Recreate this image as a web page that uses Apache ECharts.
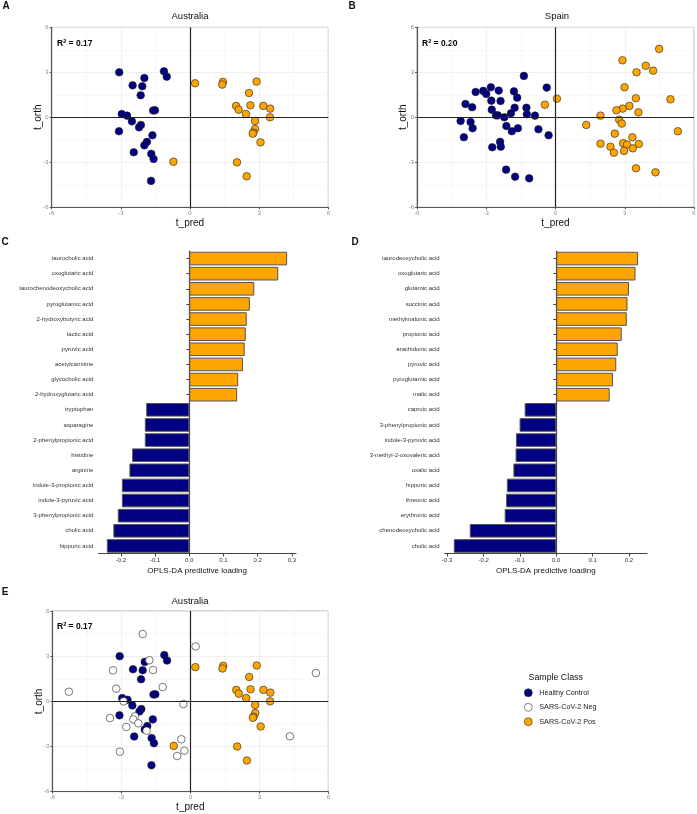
<!DOCTYPE html>
<html>
<head>
<meta charset="utf-8">
<script src="https://cdn.jsdelivr.net/npm/echarts@6/dist/echarts.min.js"></script>
<style>
html, body { margin: 0; padding: 0; background: #fff; }
#chart { width: 697px; height: 814px; }
</style>
</head>
<body>
<div id="chart"></div>
<script>
// OPLS-DA scores, Australia (panels A and E)
const ausHealthy = [
  [-3.07, 3.0], [-1.13, 3.07], [-1.01, 2.71], [-1.98, 2.62], [-2.49, 2.13],
  [-2.07, 2.07], [-2.14, 1.47], [-1.6, 0.45], [-1.52, 0.47], [-2.96, 0.22],
  [-2.73, 0.11], [-2.52, -0.27], [-2.13, -0.51], [-2.21, -0.67], [-3.08, -0.93],
  [-1.63, -1.2], [-1.87, -1.64], [-1.98, -1.87], [-2.44, -2.33], [-1.68, -2.44],
  [-1.58, -2.78], [-1.69, -4.24]
]
const ausPos = [
  [0.22, 2.27], [1.43, 2.36], [1.4, 2.18], [2.89, 2.38], [2.56, 1.62],
  [2.0, 0.76], [2.11, 0.51], [2.62, 0.8], [3.18, 0.76], [3.48, 0.58],
  [2.43, 0.22], [3.47, 0.0], [2.82, -0.24], [2.82, -0.78], [2.75, -1.02],
  [2.72, -1.09], [3.06, -1.67], [-0.72, -2.96], [2.04, -3.0], [2.46, -3.93]
]
const ausNeg = [
  [-2.07, 4.47], [0.23, 3.65], [5.46, 1.88], [-1.78, 2.73], [-3.36, 2.06],
  [-1.62, 2.08], [-5.28, 0.64], [-3.22, 0.84], [-1.2, 0.95], [-2.9, 0.0],
  [-0.3, -0.18], [-3.49, -1.11], [-2.41, -1.0], [-2.48, -1.2], [-2.26, -1.46],
  [-2.78, -1.7], [-1.9, -1.95], [-0.39, -2.52], [4.33, -2.32], [-0.26, -3.28],
  [-0.57, -3.63], [-3.06, -3.34]
]

// OPLS-DA scores, Spain (panel B)
const spainHealthy = [
  [-1.37, 2.76], [-0.38, 1.98], [-2.8, 2.0], [-2.46, 1.78], [-3.13, 1.76],
  [-3.46, 1.69], [-3.0, 1.56], [-1.8, 1.73], [-1.66, 1.31], [-2.78, 1.11],
  [-2.38, 1.09], [-3.9, 0.89], [-3.61, 0.67], [-2.76, 0.51], [-1.77, 0.64],
  [-1.26, 0.64], [-2.58, 0.13], [-2.5, 0.13], [-1.93, 0.27], [-1.24, 0.2],
  [-0.89, 0.11], [-2.22, 0.0], [-4.11, -0.24], [-3.68, -0.31], [-3.59, -0.73],
  [-2.13, -0.58], [-1.63, -0.73], [-1.89, -0.93], [-0.74, -0.8], [-3.97, -1.33],
  [-0.3, -1.2], [-2.4, -1.64], [-2.74, -2.0], [-2.37, -1.96], [-2.14, -3.49],
  [-1.75, -3.96], [-1.14, -4.07]
]
const spainPos = [
  [4.49, 4.56], [2.9, 3.8], [3.91, 3.44], [4.23, 3.11], [3.51, 3.0],
  [2.99, 2.0], [4.98, 1.2], [0.06, 1.24], [-0.46, 0.84], [3.48, 1.27],
  [3.2, 0.76], [2.91, 0.58], [2.64, 0.47], [3.59, 0.33], [1.95, 0.11],
  [2.76, -0.16], [2.87, -0.42], [1.33, -0.51], [5.3, -0.93], [2.57, -1.09],
  [3.33, -1.33], [1.95, -1.76], [2.93, -1.73], [3.1, -1.82], [3.61, -1.78],
  [2.38, -1.96], [2.97, -2.24], [3.35, -2.07], [2.53, -2.36], [3.49, -3.4],
  [4.33, -3.67]
]

// predictive loadings (panels C and D), top to bottom
const ausMetabolites = [
  'taurocholic acid', 'oxoglutaric acid', 'taurochenodeoxycholic acid', 'pyroglutamic acid',
  '2-hydroxybutyric acid', 'lactic acid', 'pyruvic acid', 'acetylcarnitine',
  'glycocholic acid', '2-hydroxyglutaric acid', 'tryptophan', 'asparagine',
  '2-phenylpropionic acid', 'histidine', 'arginine', 'indole-3-propionic acid',
  'indole-3-pyruvic acid', '3-phenylpropionic acid', 'cholic acid', 'hippuric acid'
]
const ausLoadings = [
  0.286, 0.260, 0.190, 0.177, 0.168, 0.165, 0.162, 0.157, 0.143, 0.140,
  -0.126, -0.130, -0.130, -0.167, -0.175, -0.197, -0.197, -0.209, -0.222, -0.241
]
const spainMetabolites = [
  'taurodeoxycholic acid', 'oxoglutaric acid', 'glutamic acid', 'succinic acid',
  'methylmalonic acid', 'propionic acid', 'arachidonic acid', 'pyruvic acid',
  'pyroglutamic acid', 'malic acid', 'caproic acid', '3-phenylpropionic acid',
  'indole-3-pyruvic acid', '3-methyl-2-oxovaleric acid', 'oxalic acid', 'hippuric acid',
  'threonic acid', 'erythronic acid', 'chenodeoxycholic acid', 'cholic acid'
]
const spainLoadings = [
  0.225, 0.218, 0.200, 0.196, 0.194, 0.180, 0.169, 0.165, 0.156, 0.147,
  -0.087, -0.101, -0.111, -0.112, -0.118, -0.136, -0.138, -0.142, -0.238, -0.282
]

const ausLoadingTicks = [-0.2, -0.1, 0.0, 0.1, 0.2, 0.3]
const spainLoadingTicks = [-0.3, -0.2, -0.1, 0.0, 0.1, 0.2]

const FONT = '"Liberation Sans", Arial, sans-serif'
const NAVY = '#000080'
const ORANGE = '#FFA500'

const chart = echarts.init(document.getElementById('chart'))

const scoreGrid = (left, top, width, height) => ({
  left, top, width, height,
  show: true, borderColor: '#b0b0b0', borderWidth: 1,
  outerBoundsMode: 'none', containLabel: false
})

const scoreAxis = (gridIndex, name, vertical) => ({
  type: 'value', gridIndex, min: -6, max: 6, interval: 3,
  name, nameLocation: 'middle', nameGap: vertical ? 8.5 : 11,
  nameMoveOverlap: false,
  nameTextStyle: { fontFamily: FONT, fontSize: 10, color: '#111' },
  axisLine: { show: true, onZero: false, lineStyle: { color: '#555', width: 1.2 } },
  axisTick: { show: true, length: 2, lineStyle: { color: '#555' } },
  axisLabel: { fontFamily: FONT, fontSize: 6, color: '#888', margin: 3 },
  splitLine: { show: true, lineStyle: { color: '#ebebeb', width: 0.8 } },
  minorTick: { show: false, splitNumber: 2 },
  minorSplitLine: { show: true, lineStyle: { color: '#f4f4f4', width: 0.6 } }
})

const zeroLines = {
  silent: true, symbol: 'none', label: { show: false },
  lineStyle: { color: '#222', width: 1.2, type: 'solid' },
  emphasis: { disabled: true },
  data: [{ xAxis: 0 }, { yAxis: 0 }]
}

const dots = (name, data, idx, fill, withZero) => ({
  name, type: 'scatter', data, xAxisIndex: idx, yAxisIndex: idx,
  symbolSize: 7.6, z: 3,
  itemStyle: { color: fill, borderColor: '#222', borderWidth: 0.6, opacity: 1 },
  markLine: withZero ? zeroLines : undefined
})

const loadingXAxis = (gridIndex, min, max, ticks) => ({
  type: 'value', gridIndex, min, max,
  name: 'OPLS-DA predictive loading', nameLocation: 'middle', nameGap: 13.5,
  nameMoveOverlap: false,
  nameTextStyle: { fontFamily: FONT, fontSize: 8, color: '#111' },
  axisLine: { show: true, onZero: false, lineStyle: { color: '#444', width: 1.2 } },
  axisTick: { show: true, length: 3, customValues: ticks, lineStyle: { color: '#444' } },
  axisLabel: { fontFamily: FONT, fontSize: 6, color: '#333', margin: 4,
    customValues: ticks, formatter: v => v.toFixed(1) },
  splitLine: { show: false }
})

const loadingYAxis = (gridIndex, cats) => ({
  type: 'category', gridIndex, data: cats, inverse: true,
  axisLine: { show: true, lineStyle: { color: '#444', width: 1.2 } },
  axisTick: { show: true, alignWithLabel: true, length: 3, lineStyle: { color: '#444' } },
  axisLabel: { fontFamily: FONT, fontSize: 6, color: '#333', margin: 5, interval: 0 },
  splitLine: { show: false }
})

const loadingBars = (idx, values) => ({
  type: 'bar', data: values, xAxisIndex: idx, yAxisIndex: idx,
  barWidth: '90%',
  itemStyle: {
    color: p => (p.value >= 0 ? ORANGE : NAVY),
    borderColor: '#555', borderWidth: 1
  }
})

const label = (text, x, y, font, extra) => ({
  type: 'text', x, y, silent: true,
  style: Object.assign({ text, font, fill: '#111', textAlign: 'center', textVerticalAlign: 'middle' }, extra || {})
})

const r2 = (value, x, y) => ({
  type: 'text', x, y, silent: true,
  style: {
    text: '{r|R}{s|2}{r| = ' + value + '}',
    textVerticalAlign: 'middle',
    rich: {
      r: { font: 'bold 8.5px ' + FONT, fill: '#000' },
      s: { font: 'bold 5.5px ' + FONT, fill: '#000', verticalAlign: 'top', padding: [0, 0, 5, 0] }
    }
  }
})

chart.setOption({
  backgroundColor: '#fff',
  animation: false,
  grid: [
    scoreGrid(51.7, 27.3, 276.6, 180),
    scoreGrid(417, 27.3, 277, 180),
    { left: 98.3, top: 251, width: 197.7, height: 302.5, outerBoundsMode: 'none' },
    { left: 444.7, top: 251, width: 202.3, height: 302.5, outerBoundsMode: 'none' },
    scoreGrid(52.3, 611, 276, 180.7)
  ],
  xAxis: [
    scoreAxis(0, 't_pred', false),
    scoreAxis(1, 't_pred', false),
    loadingXAxis(2, -0.266, 0.312, ausLoadingTicks),
    loadingXAxis(3, -0.307, 0.2496, spainLoadingTicks),
    scoreAxis(4, 't_pred', false)
  ],
  yAxis: [
    scoreAxis(0, 't_orth', true),
    scoreAxis(1, 't_orth', true),
    loadingYAxis(2, ausMetabolites),
    loadingYAxis(3, spainMetabolites),
    scoreAxis(4, 't_orth', true)
  ],
  legend: {
    data: ['Healthy Control', 'SARS-CoV-2 Neg', 'SARS-CoV-2 Pos'],
    orient: 'vertical', left: 519, top: 683.5,
    icon: 'circle', itemWidth: 8, itemHeight: 8, itemGap: 5.9,
    selectedMode: false,
    itemStyle: { borderWidth: 0.6, borderColor: '#333' },
    textStyle: { fontFamily: FONT, fontSize: 7.2, color: '#222', padding: [0, 0, 0, 2] }
  },
  series: [
    dots('Healthy Control', ausHealthy, 0, NAVY, true),
    dots('SARS-CoV-2 Pos', ausPos, 0, ORANGE, false),
    dots('Healthy Control', spainHealthy, 1, NAVY, true),
    dots('SARS-CoV-2 Pos', spainPos, 1, ORANGE, false),
    loadingBars(2, ausLoadings),
    loadingBars(3, spainLoadings),
    dots('Healthy Control', ausHealthy, 4, NAVY, true),
    dots('SARS-CoV-2 Neg', ausNeg, 4, '#ffffff', false),
    dots('SARS-CoV-2 Pos', ausPos, 4, ORANGE, false)
  ],
  graphic: [
    label('A', 6, 6, 'bold 10px ' + FONT),
    label('B', 352, 6, 'bold 10px ' + FONT),
    label('C', 5, 242, 'bold 10px ' + FONT),
    label('D', 355, 242, 'bold 10px ' + FONT),
    label('E', 5, 592, 'bold 10px ' + FONT),
    label('Australia', 190, 16.5, '9.5px ' + FONT),
    label('Spain', 557, 16.5, '9.5px ' + FONT),
    label('Australia', 190, 601.5, '9.5px ' + FONT),
    label('Sample Class', 555.7, 677.7, '8.8px ' + FONT),
    r2('0.17', 57, 43.5),
    r2('0.20', 422, 43.5),
    r2('0.17', 57, 627)
  ]
})
</script>
</body>
</html>
